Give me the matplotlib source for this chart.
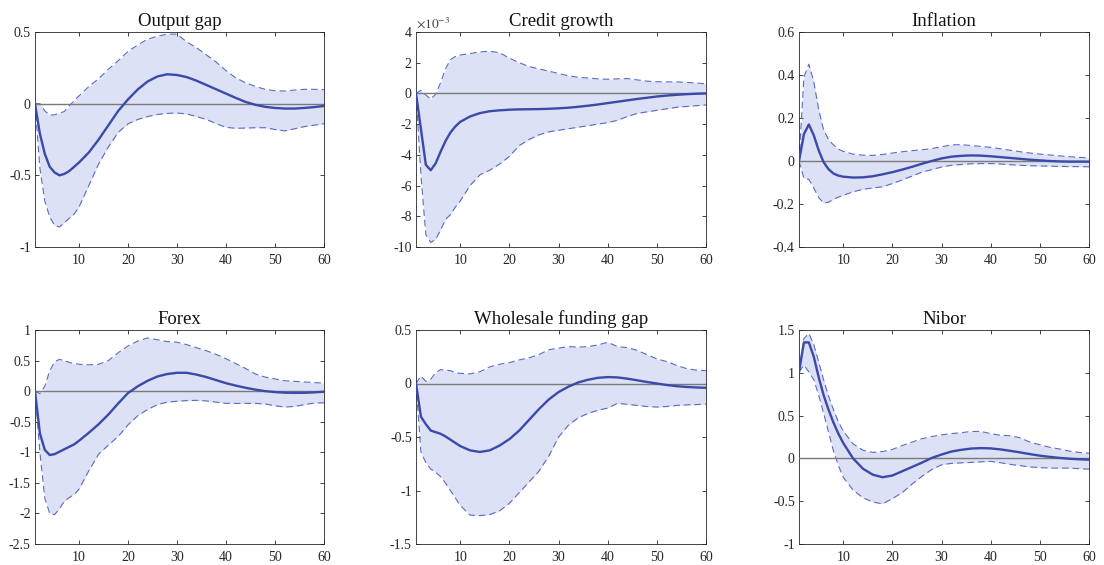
import matplotlib
matplotlib.use("Agg")
import matplotlib.pyplot as plt
from matplotlib.ticker import FixedLocator, FuncFormatter
import numpy as np

plt.rcParams['font.family'] = ['Liberation Serif', 'DejaVu Serif']
plt.rcParams['mathtext.fontset'] = 'stix'

# horizon (periods) at which values were read
periods = [1, 2, 3, 4, 5, 6, 7, 8, 9, 10, 12, 14, 16, 18, 20, 22, 24, 26, 28, 30,
           32, 34, 36, 38, 40, 42, 44, 46, 48, 50, 52, 54, 56, 58, 60]

titles = ["Output gap", "Credit growth", "Inflation",
          "Forex", "Wholesale funding gap", "Nibor"]

# ---- Output gap
og_mean = [0, -0.21, -0.35, -0.44, -0.48, -0.5, -0.49, -0.47, -0.44, -0.41, -0.34, -0.25, -0.15, -0.05, 0.03,
           0.1, 0.155, 0.19, 0.205, 0.2, 0.185, 0.16, 0.13, 0.1, 0.07, 0.04, 0.012, -0.008, -0.022, -0.03,
           -0.034, -0.034, -0.03, -0.024, -0.016]
og_hi = [0, 0, -0.05, -0.08, -0.078, -0.065, -0.055, -0.015, 0.02, 0.055, 0.12, 0.175, 0.24, 0.3, 0.365,
         0.41, 0.45, 0.47, 0.485, 0.485, 0.43, 0.39, 0.34, 0.29, 0.23, 0.18, 0.145, 0.12, 0.1, 0.09,
         0.088, 0.095, 0.1, 0.1, 0.098]
og_lo = [0, -0.45, -0.68, -0.79, -0.85, -0.86, -0.83, -0.8, -0.77, -0.72, -0.57, -0.42, -0.3, -0.2, -0.14,
         -0.11, -0.09, -0.075, -0.068, -0.065, -0.072, -0.09, -0.11, -0.14, -0.165, -0.172, -0.17, -0.168,
         -0.168, -0.18, -0.19, -0.175, -0.16, -0.15, -0.14]

# ---- Credit growth (in units of 1e-3)
credit_scale = 1e-3
cg_mean = [0, -2.3, -4.65, -5.0, -4.55, -3.8, -3.1, -2.55, -2.15, -1.85, -1.5, -1.28, -1.16, -1.1, -1.06,
           -1.04, -1.03, -1.02, -1.0, -0.97, -0.93, -0.87, -0.8, -0.72, -0.63, -0.54, -0.45, -0.36, -0.28,
           -0.2, -0.14, -0.09, -0.05, -0.02, 0.0]
cg_hi = [0, 0.2, -0.1, -0.37, -0.05, 0.7, 1.6, 2.2, 2.4, 2.5, 2.6, 2.7, 2.75, 2.65, 2.3, 2.0, 1.75, 1.6,
         1.45, 1.3, 1.15, 1.05, 1.0, 0.95, 0.92, 0.95, 0.97, 0.88, 0.8, 0.76, 0.75, 0.75, 0.72, 0.68, 0.62]
cg_lo = [0, -5.3, -9.2, -9.7, -9.5, -8.9, -8.2, -7.9, -7.4, -7.0, -6.0, -5.3, -5.0, -4.6, -4.1, -3.4, -3.0,
         -2.7, -2.5, -2.4, -2.3, -2.2, -2.1, -2.0, -1.9, -1.75, -1.5, -1.3, -1.2, -1.1, -1.0, -0.9, -0.85,
         -0.8, -0.75]

# ---- Inflation
inf_mean = [0, 0.125, 0.17, 0.12, 0.05, -0.005, -0.038, -0.058, -0.068, -0.073, -0.077, -0.076, -0.071,
            -0.062, -0.052, -0.04, -0.027, -0.013, 0.0, 0.012, 0.02, 0.024, 0.026, 0.025, 0.022, 0.018,
            0.014, 0.01, 0.006, 0.003, 0.0, -0.002, -0.003, -0.003, -0.003]
inf_hi = [0, 0.39, 0.45, 0.37, 0.24, 0.145, 0.1, 0.075, 0.055, 0.045, 0.032, 0.027, 0.026, 0.03, 0.037,
          0.043, 0.048, 0.052, 0.058, 0.066, 0.075, 0.076, 0.072, 0.068, 0.063, 0.057, 0.05, 0.043, 0.037,
          0.032, 0.028, 0.024, 0.02, 0.017, 0.014]
inf_lo = [0, -0.08, -0.085, -0.125, -0.17, -0.195, -0.192, -0.178, -0.168, -0.16, -0.143, -0.132, -0.125,
          -0.12, -0.105, -0.088, -0.07, -0.052, -0.04, -0.028, -0.02, -0.016, -0.013, -0.012, -0.012,
          -0.014, -0.017, -0.02, -0.022, -0.023, -0.024, -0.025, -0.026, -0.026, -0.027]

# ---- Forex
fx_mean = [0, -0.69, -0.96, -1.045, -1.03, -0.99, -0.95, -0.91, -0.87, -0.81, -0.68, -0.54, -0.38, -0.2,
           -0.03, 0.08, 0.17, 0.24, 0.28, 0.3, 0.3, 0.27, 0.23, 0.18, 0.13, 0.09, 0.055, 0.025, 0.0,
           -0.015, -0.025, -0.028, -0.027, -0.02, -0.01]
fx_hi = [0, -0.04, 0.08, 0.33, 0.48, 0.52, 0.5, 0.47, 0.45, 0.44, 0.43, 0.44, 0.5, 0.63, 0.74, 0.82, 0.87,
         0.84, 0.81, 0.8, 0.76, 0.71, 0.66, 0.6, 0.53, 0.45, 0.37, 0.28, 0.23, 0.2, 0.17, 0.16, 0.15, 0.14,
         0.13]
fx_lo = [0, -1.0, -1.75, -2.0, -2.02, -1.92, -1.8, -1.74, -1.69, -1.6, -1.3, -1.03, -0.88, -0.74, -0.55,
         -0.4, -0.3, -0.22, -0.18, -0.165, -0.155, -0.15, -0.16, -0.18, -0.2, -0.2, -0.2, -0.2, -0.21,
         -0.24, -0.26, -0.25, -0.22, -0.195, -0.19]

# ---- Wholesale funding gap
wf_mean = [0, -0.31, -0.38, -0.44, -0.455, -0.47, -0.495, -0.525, -0.555, -0.585, -0.625, -0.64, -0.625,
           -0.58, -0.52, -0.44, -0.34, -0.24, -0.15, -0.08, -0.03, 0.01, 0.035, 0.053, 0.06, 0.057, 0.045,
           0.03, 0.014, 0.0, -0.014, -0.025, -0.032, -0.037, -0.04]
wf_hi = [0, 0.07, 0.02, 0.04, 0.1, 0.13, 0.125, 0.12, 0.1, 0.095, 0.09, 0.11, 0.155, 0.18, 0.195, 0.22,
         0.24, 0.27, 0.315, 0.33, 0.345, 0.34, 0.345, 0.36, 0.385, 0.345, 0.335, 0.31, 0.27, 0.23, 0.205,
         0.17, 0.14, 0.125, 0.12]
wf_lo = [0, -0.64, -0.74, -0.8, -0.83, -0.87, -0.93, -1.0, -1.07, -1.14, -1.23, -1.235, -1.225, -1.19,
         -1.12, -1.02, -0.92, -0.82, -0.68, -0.5, -0.39, -0.32, -0.28, -0.25, -0.23, -0.185, -0.195, -0.205,
         -0.215, -0.22, -0.215, -0.205, -0.2, -0.197, -0.193]

# ---- Nibor
nb_mean = [1.01, 1.355, 1.355, 1.19, 0.95, 0.74, 0.57, 0.42, 0.29, 0.18, 0.0, -0.12, -0.19, -0.22, -0.2,
           -0.15, -0.1, -0.05, 0.005, 0.045, 0.08, 0.1, 0.115, 0.12, 0.117, 0.105, 0.088, 0.07, 0.05,
           0.032, 0.018, 0.006, -0.004, -0.01, -0.015]
nb_hi = [1.01, 1.4, 1.46, 1.33, 1.13, 0.92, 0.73, 0.57, 0.43, 0.32, 0.17, 0.095, 0.07, 0.08, 0.105, 0.15,
         0.19, 0.23, 0.255, 0.275, 0.29, 0.3, 0.315, 0.315, 0.29, 0.27, 0.265, 0.24, 0.19, 0.16, 0.13,
         0.11, 0.085, 0.07, 0.06]
nb_lo = [1.01, 1.09, 1.01, 0.92, 0.74, 0.53, 0.31, 0.09, -0.08, -0.22, -0.37, -0.46, -0.51, -0.53, -0.47,
         -0.4, -0.3, -0.21, -0.13, -0.075, -0.058, -0.052, -0.047, -0.04, -0.035, -0.05, -0.07, -0.085,
         -0.1, -0.107, -0.113, -0.113, -0.113, -0.12, -0.125]

series = [
    (og_mean, og_hi, og_lo, 1.0),
    (cg_mean, cg_hi, cg_lo, credit_scale),
    (inf_mean, inf_hi, inf_lo, 1.0),
    (fx_mean, fx_hi, fx_lo, 1.0),
    (wf_mean, wf_hi, wf_lo, 1.0),
    (nb_mean, nb_hi, nb_lo, 1.0),
]
ylims = [(-1, 0.5), (-10e-3, 4e-3), (-0.4, 0.6), (-2.5, 1), (-1.5, 0.5), (-1, 1.5)]
ysteps = [0.5, 2e-3, 0.2, 0.5, 0.5, 0.5]
xticks = [10, 20, 30, 40, 50, 60]

W, H = 1104, 565
cols_px = [(35, 324), (416, 706), (799, 1089)]
rows_px = [(32, 247), (330, 544)]

LINE = '#3b4aa8'
FILL = '#dde1f6'
DASH = '#5b6bc2'
AXC = '#262626'

fig = plt.figure(figsize=(W / 100, H / 100), dpi=100)

for i, (mean, hi, lo, sc) in enumerate(series):
    r, c = divmod(i, 3)
    x0, x1 = cols_px[c]
    y0, y1 = rows_px[r]
    ax = fig.add_axes([x0 / W, 1 - y1 / H, (x1 - x0) / W, (y1 - y0) / H])
    p = np.array(periods)
    m = np.array(mean) * sc
    h = np.array(hi) * sc
    l = np.array(lo) * sc
    ax.fill_between(p, l, h, color=FILL, lw=0, zorder=1)
    ax.plot(p, h, ls=(0, (6, 3.5)), color=DASH, lw=0.8, zorder=2)
    ax.plot(p, l, ls=(0, (6, 3.5)), color=DASH, lw=0.8, zorder=2)
    ax.plot([1, 60], [0, 0], color='#7a7a7a', lw=1.0, zorder=3)
    ax.plot(p, m, color=LINE, lw=1.7, zorder=4)
    ax.set_xlim(1, 60)
    ax.set_ylim(*ylims[i])
    ax.xaxis.set_major_locator(FixedLocator(xticks))
    lo_y, hi_y = ylims[i]
    n = int(round((hi_y - lo_y) / ysteps[i]))
    yt = [lo_y + k * ysteps[i] for k in range(n + 1)]
    ax.yaxis.set_major_locator(FixedLocator(yt))
    if sc != 1.0:
        ax.yaxis.set_major_formatter(FuncFormatter(lambda v, pos, s=sc: f"{round(v / s, 6):g}"))
        ax.text(0.0, 1.008, r'$\times10^{-3}$', transform=ax.transAxes, fontsize=9.5,
                color='#404040', ha='left', va='bottom')
    else:
        ax.yaxis.set_major_formatter(FuncFormatter(lambda v, pos: f"{round(v, 6):g}"))
    ax.tick_params(direction='in', length=3, width=0.6, colors=AXC, labelsize=10,
                   labelcolor='#262626', top=True, right=True)
    ax.tick_params(axis='x', pad=5)
    ax.tick_params(axis='y', pad=3)
    for s in ax.spines.values():
        s.set_color(AXC)
        s.set_linewidth(0.6)
    ax.set_title(titles[i], fontsize=13.5, color='#111111', pad=4)

fig.savefig('out.png', dpi=100)
